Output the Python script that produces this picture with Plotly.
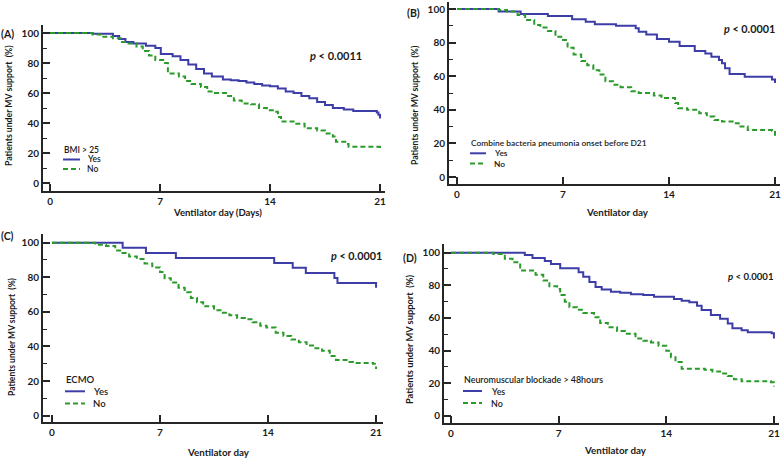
import plotly.graph_objects as go

W, H = 784, 458

# ---------------- data ----------------
A_yes_t = [0, 2.7, 4.0, 4.4, 4.8, 5.3, 6.1, 6.7, 7.05, 7.8, 8.3, 8.8, 9.3, 9.8, 10.3, 11.0, 11.5, 12.0, 12.5, 13.0,
           13.5, 14.0, 14.5, 15.0, 15.5, 16.0, 16.5, 17.0, 17.5, 18.0, 18.7, 19.3, 20.8, 20.9, 21.0]
A_yes_s = [100, 99.5, 98, 96, 94, 93, 91.5, 90, 86, 84.5, 82, 79, 76, 73, 71, 69, 68.5, 68, 67, 66,
           65, 64.5, 63, 61, 60, 58, 56.5, 54, 52, 50, 49, 48, 47, 45.5, 43]
A_no_t = [0, 2.7, 3.3, 4.0, 4.5, 5.0, 5.5, 5.9, 6.3, 6.7, 7.2, 7.5, 8.2, 8.6, 9.0, 9.6, 10.0, 10.5, 11.2, 11.7,
          12.2, 12.8, 13.3, 13.8, 14.3, 14.5, 14.7, 15.5, 16.2, 17.0, 17.5, 18.0, 18.2, 18.9, 19.0, 20.95, 21.0]
A_no_s = [100, 99, 97.5, 96.5, 94, 93, 91, 88, 85, 82, 80, 73, 71, 68, 66, 64, 61, 60, 58, 55,
          53, 52.5, 50, 48.5, 47.5, 44, 41, 39.5, 36.5, 35, 33, 31, 27.5, 26, 24.2, 24, 21.5]

B_yes_t = [0, 2.75, 4.2, 6.0, 7.6, 8.5, 9.1, 10.5, 11.8, 12.0, 12.5, 13.2, 14.0, 14.7, 15.7, 16.4, 16.8, 17.3,
           17.5, 17.7, 18.0, 19.0, 20.8, 21.0]
B_yes_s = [100, 98.5, 97, 95.8, 94, 92.5, 91, 90, 88.5, 86.5, 84.9, 82.1, 80.5, 78, 75, 73.6, 71.6, 69.6,
           67.7, 64.7, 61.3, 59.7, 58.1, 56]
B_no_t = [0, 2.75, 3.3, 4.0, 4.5, 5.1, 5.5, 6.0, 6.5, 7.0, 7.3, 7.7, 8.2, 8.6, 9.0, 9.4, 9.8, 10.3, 10.8, 11.5,
          12.0, 13.0, 13.5, 14.4, 14.6, 15.2, 16.0, 16.5, 17.0, 17.5, 18.2, 18.6, 19.2, 20.8, 21.0]
B_no_s = [100, 99.5, 98.5, 96.5, 93.5, 90.5, 89, 87, 83.5, 81.5, 77, 73, 69, 66.5, 63.5, 61, 57, 55, 53.5, 51,
          50, 48.5, 47, 44, 41, 40, 38, 36, 34, 33, 32, 30, 28, 27.5, 24.5]

C_yes_t = [0, 4.58, 6.09, 8.03, 14.4, 15.6, 16.45, 18.3, 18.5, 20.9, 21.0]
C_yes_s = [100, 97, 94, 91.2, 88.2, 85.5, 82.5, 79.6, 76.7, 76.7, 74]
C_no_t = [0, 2.8, 3.5, 4.1, 4.5, 5.0, 5.5, 6.0, 6.5, 7.0, 7.3, 7.7, 8.2, 8.6, 9.0, 9.4, 9.8, 10.5, 11.0, 11.5,
          12.0, 12.5, 13.0, 13.5, 13.9, 14.5, 15.0, 15.5, 16.0, 16.5, 17.0, 17.5, 18.0, 18.4, 19.2, 19.5, 20.8, 21.0]
C_no_s = [100, 98.8, 98, 95.5, 94, 92, 90.5, 88, 85.7, 83, 79.5, 77, 74, 71.3, 68, 65.5, 63.2, 61, 59.5, 58,
          56.5, 55.8, 54, 52, 51, 48, 46, 44, 42.5, 40.5, 39, 37.5, 34.5, 32.2, 31, 30.5, 30, 27]

D_yes_t = [0, 4.8, 5.3, 6.1, 6.5, 7.1, 8.3, 8.6, 9.0, 9.4, 9.8, 10.4, 11.0, 11.7, 12.5, 13.2, 14.5, 15.0, 15.5,
           16.0, 16.3, 16.9, 17.5, 18.0, 18.3, 18.9, 19.3, 20.85, 21.0]
D_yes_s = [100, 98.5, 96.7, 94.9, 93, 90.4, 88, 85.3, 82, 79, 77.5, 76.1, 75.5, 74.5, 74, 73, 71.6, 70.5, 69.6,
           67.5, 64.9, 61.8, 59.5, 56.7, 53.7, 52.5, 51.2, 50.6, 47.5]
D_no_t = [0, 2.75, 3.5, 4.0, 4.5, 5.5, 6.0, 6.4, 6.9, 7.1, 7.4, 7.7, 8.2, 8.6, 9.3, 9.7, 10.2, 10.8, 11.3, 12.0,
          12.5, 13.0, 13.5, 14.0, 14.3, 14.6, 15.0, 16.5, 17.0, 17.5, 18.0, 18.4, 18.9, 20.8, 21.0]
D_no_s = [100, 99.2, 96.3, 94.1, 89, 86.4, 82.9, 79.4, 77.8, 74, 70, 66.6, 65, 63.1, 60.5, 57, 54.4, 52, 50.3, 47.5,
          46, 45, 43, 40, 36, 33, 28.9, 28.3, 27.3, 26, 24.5, 22.5, 21.2, 20.6, 18]

x_ticks = [0, 7, 14, 21]
y_ticks = [0, 20, 40, 60, 80, 100]
series_names = ["Yes", "No"]
panel_labels = ["(A)", "(B)", "(C)", "(D)"]
p_values = ["< 0.0011", "< 0.0001", "< 0.0001", "< 0.0001"]
legend_titles = ["BMI > 25", "Combine bacteria pneumonia onset before D21", "ECMO",
                 "Neuromuscular blockade > 48hours"]
x_titles = ["Ventilator day (Days)", "Ventilator day", "Ventilator day", "Ventilator day"]
y_title = "Patients under MV support  (%)"

# ---------------- layout geometry (pixels) ----------------
def PX(px):
    return px / W

def PY(py):
    return 1 - py / H

panels = [
    dict(yes=(A_yes_t, A_yes_s), no=(A_no_t, A_no_s),
         dom_x=(43, 385), dom_y=(25, 191), xr=(-0.45, 21.32), yr=(-5.33, 105.33),
         lab=(8, 34), p=(336, 55, 11), ytit=(8, 106, 8.7), xtit=(217, 213, 9.6),
         leg=(63, 150, 8.5, 17, 85, 9.5)),
    dict(yes=(B_yes_t, B_yes_s), no=(B_no_t, B_no_s),
         dom_x=(449, 780), dom_y=(2, 184), xr=(-0.53, 21.33), yr=(-4.17, 104.2),
         lab=(414, 13), p=(749, 28, 10.8), ytit=(415, 105, 8.6), xtit=(617, 212, 9.8),
         leg=(470, 143, 8.4, 16, 492, 10.3)),
    dict(yes=(C_yes_t, C_yes_s), no=(C_no_t, C_no_s),
         dom_x=(43, 383), dom_y=(234, 422), xr=(-0.58, 21.45), yr=(-3.64, 105.0),
         lab=(8, 236), p=(356, 255, 10.8), ytit=(12, 337, 8.5), xtit=(218, 452, 9.8),
         leg=(65, 379, 9.5, 20, 91, 12.3)),
    dict(yes=(D_yes_t, D_yes_s), no=(D_no_t, D_no_s),
         dom_x=(444, 779), dom_y=(244, 423), xr=(-0.455, 21.33), yr=(-4.29, 105.3),
         lab=(410, 258), p=(751, 276, 9.6), ytit=(409, 339, 9.3), xtit=(615, 450, 9.8),
         leg=(463, 379, 8.9, 19, 489, 12)),
]

BLUE = "#3d3da8"
GREEN = "#2a9a2a"
AX = "#262626"
TXT = "#1a1a1a"
FONT = "Lato"

fig = go.Figure()
layout = dict(width=W, height=H, margin=dict(l=0, r=0, t=0, b=0),
              paper_bgcolor="white", plot_bgcolor="white", showlegend=False,
              font=dict(family=FONT, color=TXT))
annotations = []
shapes = []

for i, pn in enumerate(panels):
    k = "" if i == 0 else str(i + 1)
    xa, ya = "x" + k, "y" + k
    fig.add_trace(go.Scatter(x=pn["yes"][0], y=pn["yes"][1], mode="lines", name=series_names[0],
                             line=dict(color=BLUE, width=2, shape="hv"), xaxis=xa, yaxis=ya))
    fig.add_trace(go.Scatter(x=pn["no"][0], y=pn["no"][1], mode="lines", name=series_names[1],
                             line=dict(color=GREEN, width=2, shape="hv", dash="5px,3px"), xaxis=xa, yaxis=ya))
    layout["xaxis" + k] = dict(domain=[PX(pn["dom_x"][0]), PX(pn["dom_x"][1])], range=list(pn["xr"]),
                               anchor=ya, showline=True, linecolor=AX, linewidth=2, ticks="inside",
                               ticklen=7, tickwidth=1.5, tickcolor=AX, tickvals=x_ticks,
                               showgrid=False, zeroline=False,
                               tickfont=dict(family=FONT, size=10, color=TXT, weight="bold"))
    layout["yaxis" + k] = dict(domain=[PY(pn["dom_y"][1]), PY(pn["dom_y"][0])], range=list(pn["yr"]),
                               anchor=xa, showline=True, linecolor=AX, linewidth=2, ticks="inside",
                               ticklen=7, tickwidth=1.5, tickcolor=AX, tickvals=y_ticks,
                               showgrid=False, zeroline=False,
                               minor=dict(tickvals=[10, 30, 50, 70, 90], ticks="inside", ticklen=4,
                                          tickwidth=1.2, tickcolor=AX, showgrid=False),
                               tickfont=dict(family=FONT, size=10, color=TXT, weight="bold"))
    annotations.append(dict(text="<b>" + panel_labels[i] + "</b>", x=PX(pn["lab"][0]), y=PY(pn["lab"][1]),
                            xref="paper", yref="paper", showarrow=False, xanchor="center", yanchor="middle",
                            font=dict(size=10.5, family=FONT, color=TXT)))
    annotations.append(dict(text="<b><i>p</i> " + p_values[i] + "</b>", x=PX(pn["p"][0]), y=PY(pn["p"][1]),
                            xref="paper", yref="paper", showarrow=False, xanchor="center", yanchor="middle",
                            font=dict(size=pn["p"][2], family=FONT, color=TXT)))
    annotations.append(dict(text="<b>" + y_title + "</b>", x=PX(pn["ytit"][0]), y=PY(pn["ytit"][1]),
                            xref="paper", yref="paper", showarrow=False, textangle=-90,
                            xanchor="center", yanchor="middle",
                            font=dict(size=pn["ytit"][2], family=FONT, color=TXT)))
    annotations.append(dict(text="<b>" + x_titles[i] + "</b>", x=PX(pn["xtit"][0]), y=PY(pn["xtit"][1]),
                            xref="paper", yref="paper", showarrow=False,
                            xanchor="center", yanchor="middle",
                            font=dict(size=pn["xtit"][2], family=FONT, color=TXT)))
    lx, ly, fs, llen, tx, gap = pn["leg"]
    annotations.append(dict(text=legend_titles[i], x=PX(lx - 1), y=PY(ly), xref="paper", yref="paper",
                            showarrow=False, xanchor="left", yanchor="middle",
                            font=dict(size=fs, family=FONT, color=TXT, weight=600)))
    for j, (nm, col, dash) in enumerate([(series_names[0], BLUE, "solid"), (series_names[1], GREEN, "5px,3px")]):
        yy = ly + gap * (j + 1)
        annotations.append(dict(text=nm, x=PX(tx), y=PY(yy), xref="paper", yref="paper",
                                showarrow=False, xanchor="left", yanchor="middle",
                                font=dict(size=fs, family=FONT, color=TXT, weight=600)))
        shapes.append(dict(type="line", xref="paper", yref="paper", x0=PX(lx), x1=PX(lx + llen),
                           y0=PY(yy), y1=PY(yy), line=dict(color=col, width=2, dash=dash)))

layout["annotations"] = annotations
layout["shapes"] = shapes
fig.update_layout(**layout)
fig.write_html("out.html", config={"displayModeBar": False},
               post_script="document.body.style.margin='0';document.body.style.overflow='hidden';")
